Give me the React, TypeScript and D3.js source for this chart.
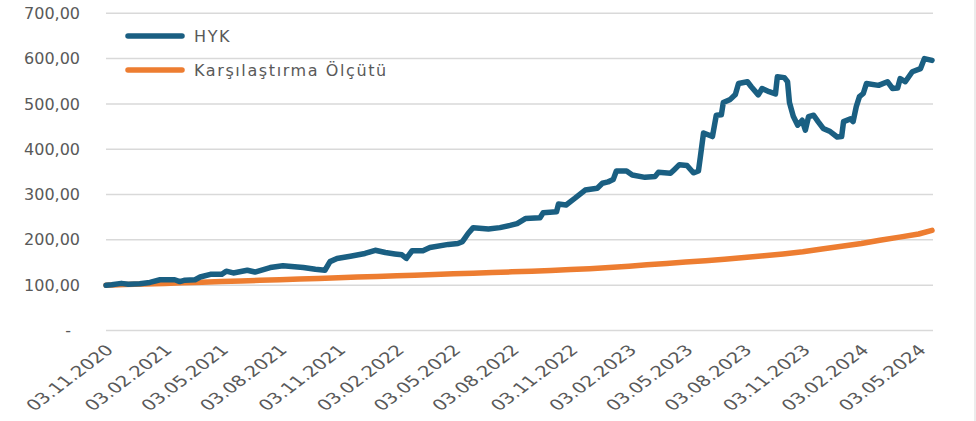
import React from "react";
import * as d3 from "d3";

// HYK fon değeri (tarih, endeks)
const hykDates = [
  "03.11.2020", "12.11.2020", "27.11.2020", "08.12.2020", "26.12.2020", "11.01.2021", "27.01.2021",
  "19.02.2021", "27.02.2021", "07.03.2021", "23.03.2021", "31.03.2021", "16.04.2021", "04.05.2021",
  "11.05.2021", "22.05.2021", "13.06.2021", "25.06.2021", "19.07.2021", "08.08.2021", "09.09.2021",
  "28.09.2021", "13.10.2021", "21.10.2021", "01.11.2021", "22.11.2021", "15.12.2021", "31.12.2021",
  "16.01.2022", "31.01.2022", "11.02.2022", "18.02.2022", "27.02.2022", "16.03.2022", "27.03.2022",
  "25.04.2022", "10.05.2022", "17.05.2022", "21.05.2022", "26.05.2022", "03.06.2022", "27.06.2022",
  "15.07.2022", "31.07.2022", "11.08.2022", "24.08.2022", "16.09.2022", "21.09.2022", "12.10.2022",
  "15.10.2022", "27.10.2022", "10.11.2022", "26.11.2022", "15.12.2022", "23.12.2022", "01.01.2023",
  "09.01.2023", "14.01.2023", "30.01.2023", "08.02.2023", "28.02.2023", "16.03.2023", "21.03.2023",
  "09.04.2023", "15.04.2023", "23.04.2023", "05.05.2023", "15.05.2023", "23.05.2023", "26.05.2023",
  "31.05.2023", "14.06.2023", "20.06.2023", "28.06.2023", "01.07.2023", "12.07.2023", "20.07.2023",
  "25.07.2023", "08.08.2023", "14.08.2023", "25.08.2023", "31.08.2023", "11.09.2023", "21.09.2023",
  "24.09.2023", "05.10.2023", "10.10.2023", "13.10.2023", "19.10.2023", "26.10.2023", "02.11.2023",
  "07.11.2023", "12.11.2023", "20.11.2023", "27.11.2023", "05.12.2023", "16.12.2023", "27.12.2023",
  "03.01.2024", "06.01.2024", "17.01.2024", "21.01.2024", "26.01.2024", "31.01.2024", "06.02.2024",
  "11.02.2024", "01.03.2024", "15.03.2024", "23.03.2024", "31.03.2024", "04.04.2024", "12.04.2024",
  "23.04.2024", "06.05.2024", "12.05.2024", "24.05.2024",
];
const hykValues = [
  100, 101, 104, 102, 103, 106, 112,
  112, 108, 111, 112, 118, 124, 124,
  131, 127, 133, 129, 139, 143, 139,
  135, 133, 152, 159, 164, 170, 177,
  172, 169, 167, 159, 176, 176, 183,
  190, 192, 196, 204, 214, 227, 224,
  227, 232, 236, 247, 249, 260, 262,
  279, 277, 292, 310, 314, 325, 328,
  333, 352, 352, 343, 338, 340, 349,
  347, 355, 366, 364, 348, 352, 383,
  436, 428, 475, 476, 503, 510, 521,
  545, 549, 538, 520, 534, 527, 522,
  560, 558, 549, 503, 473, 453, 464,
  442, 472, 475, 461, 446, 439, 427,
  428, 461, 467, 461, 494, 516, 523,
  545, 541, 549, 534, 535, 556, 549,
  571, 578, 600, 596,
];

// Karşılaştırma ölçütü (aylık)
const benchDates = [
  "03.11.2020", "03.12.2020", "03.01.2021", "03.02.2021", "03.03.2021", "03.04.2021", "03.05.2021",
  "03.06.2021", "03.07.2021", "03.08.2021", "03.09.2021", "03.10.2021", "03.11.2021", "03.12.2021",
  "03.01.2022", "03.02.2022", "03.03.2022", "03.04.2022", "03.05.2022", "03.06.2022", "03.07.2022",
  "03.08.2022", "03.09.2022", "03.10.2022", "03.11.2022", "03.12.2022", "03.01.2023", "03.02.2023",
  "03.03.2023", "03.04.2023", "03.05.2023", "03.06.2023", "03.07.2023", "03.08.2023", "03.09.2023",
  "03.10.2023", "03.11.2023", "03.12.2023", "03.01.2024", "03.02.2024", "03.03.2024", "03.04.2024",
  "03.05.2024", "24.05.2024",
];
const benchValues = [
  100, 101.3, 102.6, 103.9, 105.2, 106.5, 107.9,
  109.3, 110.7, 112.1, 113.5, 115, 116.5, 117.9,
  119.3, 120.7, 122.1, 123.5, 125, 126.5, 128,
  129.5, 131, 132.5, 134.5, 136.5, 139, 142,
  145, 148, 151, 154, 157, 161, 165,
  169, 174, 180, 186, 192, 199, 206,
  213, 221,
];

const xTickLabels = [
  "03.11.2020", "03.02.2021", "03.05.2021", "03.08.2021", "03.11.2021",
  "03.02.2022", "03.05.2022", "03.08.2022", "03.11.2022", "03.02.2023",
  "03.05.2023", "03.08.2023", "03.11.2023", "03.02.2024", "03.05.2024",
];
const yTicks = [0, 100, 200, 300, 400, 500, 600, 700];

const seriesNames = ["HYK", "Karşılaştırma Ölçütü"];
const seriesColors = ["#1A5F82", "#ED7D31"];

const parse = d3.timeParse("%d.%m.%Y");
const font = "'DejaVu Sans', sans-serif";
const textColor = "#595959";

const App = () => {
  const width = 976;
  const height = 421;

  const hyk = hykDates.map((d, i) => ({ date: parse(d) as Date, value: hykValues[i] }));
  const bench = benchDates.map((d, i) => ({ date: parse(d) as Date, value: benchValues[i] }));

  const x = d3
    .scaleTime()
    .domain([parse(hykDates[0]) as Date, parse(hykDates[hykDates.length - 1]) as Date])
    .range([106, 932]);

  const y = d3.scaleLinear().domain([0, 700]).range([330.5, 13.3]);

  const line = d3
    .line<{ date: Date; value: number }>()
    .x(d => x(d.date))
    .y(d => y(d.value));

  const fmt = (v: number) => (v === 0 ? "-" : d3.format(".2f")(v).replace(".", ","));

  return (
    <svg
      width={width}
      height={height}
      style={{ position: "absolute", left: 0, top: 0, background: "#fff" }}
    >
      {yTicks.map(t => (
        <g key={t}>
          <line x1={106} x2={933} y1={y(t)} y2={y(t)} stroke="#D9D9D9" strokeWidth={1.5} />
          <text
            x={t === 0 ? 71 : 80}
            y={y(t)}
            dy="0.35em"
            textAnchor="end"
            fontFamily={font}
            fontSize={16}
            fill={textColor}
          >
            {fmt(t)}
          </text>
        </g>
      ))}

      {xTickLabels.map(l => {
        const px = x(parse(l) as Date);
        return (
          <text
            key={l}
            transform={`translate(${px - 2},${343}) scale(1.32,1) rotate(-45)`}
            textAnchor="end"
            dy="0.75em"
            fontFamily={font}
            fontSize={15}
            fill={textColor}
          >
            {l}
          </text>
        );
      })}

      <path
        d={line(bench) ?? ""}
        fill="none"
        stroke={seriesColors[1]}
        strokeWidth={5.5}
        strokeLinejoin="round"
        strokeLinecap="round"
      />
      <path
        d={line(hyk) ?? ""}
        fill="none"
        stroke={seriesColors[0]}
        strokeWidth={5.5}
        strokeLinejoin="round"
        strokeLinecap="round"
      />

      {seriesNames.map((name, i) => (
        <g key={name} transform={`translate(0,${36 + i * 34})`}>
          <line x1={128} x2={182} y1={0} y2={0} stroke={seriesColors[i]} strokeWidth={5.5} strokeLinecap="round" />
          <text x={194} y={0} dy="0.36em" fontFamily={font} fontSize={16} letterSpacing={1.6} fill={textColor}>
            {name}
          </text>
        </g>
      ))}

      <line x1={975} x2={975} y1={0} y2={height} stroke="#D9D9D9" strokeWidth={1} />
    </svg>
  );
};

export default App;
